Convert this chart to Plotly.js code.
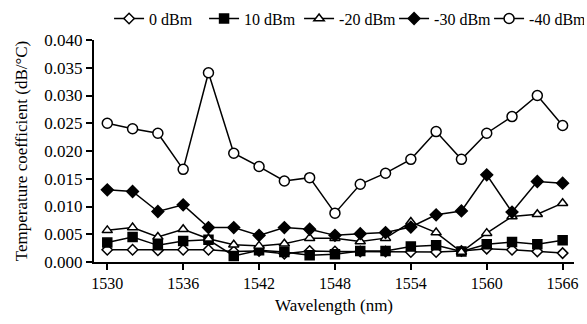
<!DOCTYPE html>
<html>
<head>
<meta charset="utf-8">
<script src="https://cdn.plot.ly/plotly-3.0.1.min.js"></script>
<style>html,body{margin:0;padding:0;background:#fff;}#chart{width:587px;height:324px;}</style>
</head>
<body>
<div id="chart"></div>
<script>
const wavelength = [1530,1532,1534,1536,1538,1540,1542,1544,1546,1548,1550,1552,1554,1556,1558,1560,1562,1564,1566];
const p0dBm   = [0.0022,0.0022,0.0021,0.0022,0.0022,0.0019,0.0020,0.0015,0.0020,0.0019,0.0019,0.0019,0.0018,0.0018,0.0020,0.0024,0.0022,0.0019,0.0016];
const p10dBm  = [0.0035,0.0045,0.0030,0.0038,0.0040,0.0011,0.0021,0.0018,0.0012,0.0014,0.0020,0.0020,0.0028,0.0030,0.0019,0.0032,0.0036,0.0032,0.0039];
const m20dBm  = [0.0057,0.0062,0.0045,0.0059,0.0042,0.0031,0.0029,0.0033,0.0043,0.0043,0.0037,0.0043,0.0072,0.0053,0.0018,0.0052,0.0082,0.0086,0.0106];
const m30dBm  = [0.0130,0.0127,0.0091,0.0103,0.0062,0.0062,0.0048,0.0062,0.0059,0.0048,0.0051,0.0053,0.0063,0.0085,0.0092,0.0157,0.0090,0.0145,0.0142];
const m40dBm  = [0.0250,0.0240,0.0232,0.0167,0.0341,0.0196,0.0172,0.0146,0.0152,0.0088,0.0140,0.0160,0.0185,0.0235,0.0185,0.0232,0.0262,0.0300,0.0246];
const seriesNames = ['0 dBm','10 dBm','-20 dBm','-30 dBm','-40 dBm'];
const seriesData = [p0dBm, p10dBm, m20dBm, m30dBm, m40dBm];
const symbols = ['diamond','square','triangle-up','diamond','circle'];
const fills = ['#ffffff','#000000','#ffffff','#000000','#ffffff'];
const sizes = [8,9,9,9,10];

const traces = seriesData.map((d,i)=>({
  x: wavelength, y: d, name: seriesNames[i], type:'scatter', mode:'lines+markers',
  line:{color:'#000', width:1.5},
  marker:{symbol:symbols[i], size:sizes[i], color:fills[i], line:{color:'#000', width:1.5}}
}));

const fam = 'Liberation Serif, Times New Roman, serif';
const layout = {
  width:587, height:324,
  margin:{l:94, r:13, t:40, b:62, autoexpand:false},
  paper_bgcolor:'#fff', plot_bgcolor:'#fff',
  font: {family:fam, color:'#000', size:16},
  showlegend:true,
  legend:{orientation:'h', xref:'container', yref:'container', x:0.995, xanchor:'right', y:0.995, yanchor:'top', font:{family:fam, size:16, color:'#000'}, itemwidth:30, entrywidth:50, tracegroupgap:0, bgcolor:'rgba(0,0,0,0)'},
  xaxis:{range:[1528.95,1566.9], tickvals:[1530,1536,1542,1548,1554,1560,1566], showgrid:false, zeroline:false,
    showline:true, linecolor:'#000', linewidth:2, ticks:'outside', ticklen:6, tickwidth:2, tickcolor:'#000',
    tickfont:{family:fam, size:16, color:'#000'},
    title:{text:'Wavelength (nm)', font:{family:fam, size:17, color:'#000'}, standoff:8}},
  yaxis:{range:[0,0.040], dtick:0.005, tickformat:'.3f', showgrid:false, zeroline:false,
    showline:true, linecolor:'#000', linewidth:2, ticks:'outside', ticklen:6, tickwidth:2, tickcolor:'#000',
    tickfont:{family:fam, size:17, color:'#000'},
    title:{text:'Temperature coefficient (dB/°C)', font:{family:fam, size:17, color:'#000'}, standoff:12}}
};
Plotly.newPlot('chart', traces, layout, {displayModeBar:false, staticPlot:true});
</script>
</body>
</html>
